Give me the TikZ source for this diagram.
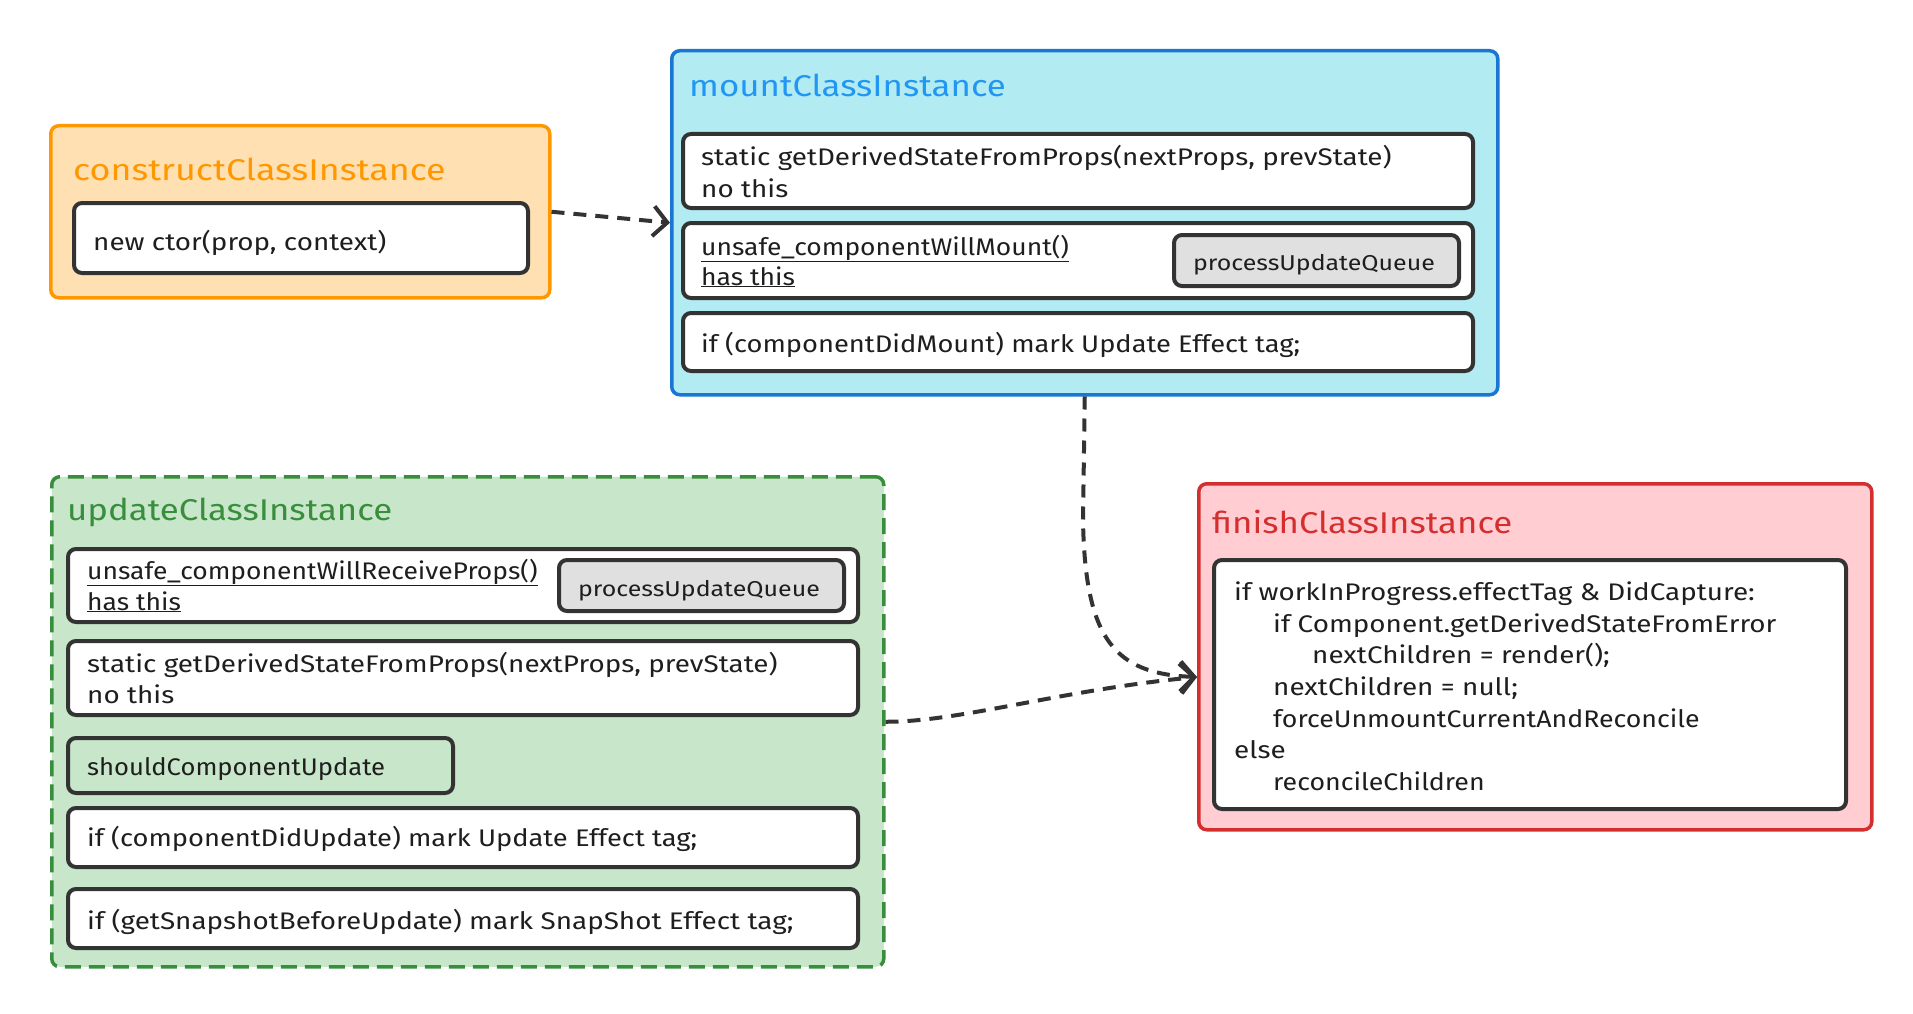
\documentclass[tikz,border=0pt]{standalone}
\usepackage{fontspec}
\usepackage{graphicx}
\setmainfont{Fira Sans}[FakeStretch=1.16]
\usetikzlibrary{arrows.meta}
\newcommand{\hsq}[2]{\scalebox{#1}[1]{#2}}
\definecolor{orS}{HTML}{FF9800}
\definecolor{orF}{HTML}{FFE0B2}
\definecolor{blS}{HTML}{1976D2}
\definecolor{blF}{HTML}{B2EBF2}
\definecolor{blT}{HTML}{2196F3}
\definecolor{grS}{HTML}{388E3C}
\definecolor{grF}{HTML}{C8E6C9}
\definecolor{rdS}{HTML}{D32F2F}
\definecolor{rdF}{HTML}{FFCDD2}
\definecolor{dk}{HTML}{333333}
\definecolor{txc}{HTML}{1E1E1E}
\definecolor{puq}{HTML}{E0E0E0}
\begin{document}
\begin{tikzpicture}[x=1pt,y=-1pt,
  outer/.style={draw, line width=3.5pt, rounded corners=8pt, anchor=north west, inner sep=0pt},
  inbox/.style={draw=dk, fill=white, line width=4pt, rounded corners=8pt, anchor=north west, inner sep=0pt},
  puqbox/.style={inbox, fill=puq},
  ttl/.style={anchor=base west, inner sep=0pt, font=\fontsize{30}{36}\selectfont},
  txt/.style={anchor=base west, inner sep=0pt, text=txc, font=\fontsize{24}{30}\selectfont},
  ctxt/.style={txt, anchor=base, font=\fontsize{21.5}{26}\selectfont},
  conn/.style={draw=dk, line width=4pt, dash pattern=on 13pt off 9pt, -{Straight Barb[length=14pt,width=30pt]}}
]
\useasboundingbox (0,0) rectangle (1913,1014);

% construct
\node[outer, draw=orS, fill=orF, minimum width=499, minimum height=172] (construct) at (49,124) {};
\node[ttl, text=orS] (constructT) at (73,180) {\hsq{1.03}{constructClassInstance}};
\node[inbox, minimum width=454, minimum height=70] (c1) at (72,201) {};
\node[txt] (c1a) at (93,250) {new ctor(prop, context)};

% mount
\node[outer, draw=blS, fill=blF, minimum width=826, minimum height=344] (mount) at (670,49) {};
\node[ttl, text=blT] (mountT) at (689,97) {mountClassInstance};
\node[inbox, minimum width=790, minimum height=74] (m1) at (681,132) {};
\node[txt] (m1a) at (701,165) {static getDerivedStateFromProps(nextProps, prevState)};
\node[txt] (m1b) at (701,197) {no this};
\node[inbox, minimum width=790, minimum height=75] (m2) at (681,221) {};
\node[txt] (m2a) at (701,255) {\hsq{0.95}{\underline{unsafe\_componentWillMount()}}};
\node[txt] (m2b) at (701,285) {\hsq{0.95}{\underline{has this}}};
\node[puqbox, minimum width=285, minimum height=51] (m2q) at (1172,233) {};
\node[ctxt] (m2qt) at (1314,270) {processUpdateQueue};
\node[inbox, minimum width=790, minimum height=58] (m3) at (681,311) {};
\node[txt] (m3a) at (701,352) {\hsq{0.98}{if (componentDidMount) mark Update Effect tag;}};

% update
\node[outer, draw=grS, fill=grF, dash pattern=on 16pt off 8pt, minimum width=832, minimum height=490] (update) at (50,475) {};
\node[ttl, text=grS] (updateT) at (67,520) {updateClassInstance};
\node[inbox, minimum width=790, minimum height=73] (u1) at (66,547) {};
\node[txt] (u1a) at (87,579) {\hsq{0.95}{\underline{unsafe\_componentWillReceiveProps()}}};
\node[txt] (u1b) at (87,610) {\hsq{0.95}{\underline{has this}}};
\node[puqbox, minimum width=285, minimum height=51] (u1q) at (557,558) {};
\node[ctxt] (u1qt) at (699,596) {processUpdateQueue};
\node[inbox, minimum width=790, minimum height=74] (u2) at (66,639) {};
\node[txt] (u2a) at (87,672) {static getDerivedStateFromProps(nextProps, prevState)};
\node[txt] (u2b) at (87,703) {no this};
\node[inbox, fill=grF, minimum width=385, minimum height=55] (u3) at (66,736) {};
\node[txt] (u3a) at (87,775) {\hsq{0.92}{shouldComponentUpdate}};
\node[inbox, minimum width=790, minimum height=59] (u4) at (66,806) {};
\node[txt] (u4a) at (87,846) {\hsq{0.98}{if (componentDidUpdate) mark Update Effect tag;}};
\node[inbox, minimum width=790, minimum height=59] (u5) at (66,887) {};
\node[txt] (u5a) at (87,929) {if (getSnapshotBeforeUpdate) mark SnapShot Effect tag;};

% finish
\node[outer, draw=rdS, fill=rdF, minimum width=673, minimum height=346] (finish) at (1197,482) {};
\node[ttl, text=rdS] (finishT) at (1212,533) {finishClassInstance};
\node[inbox, minimum width=632, minimum height=249] (f1) at (1212,558) {};
\node[txt] (f1a) at (1234,600) {if workInProgress.effectTag \& DidCapture:};
\node[txt] (f1b) at (1273,632) {if Component.getDerivedStateFromError};
\node[txt] (f1c) at (1312,663) {nextChildren = render();};
\node[txt] (f1d) at (1273,695) {nextChildren = null;};
\node[txt] (f1e) at (1273,727) {\hsq{0.96}{forceUnmountCurrentAndReconcile}};
\node[txt] (f1f) at (1234,758) {else};
\node[txt] (f1g) at (1273,790) {\hsq{0.96}{reconcileChildren}};

% connectors
\coordinate (finIn) at (1197,677);
\coordinate (mDown) at (1083,520);
\draw[conn] (construct.east) -- (mount.west);
\draw[conn] (mount.south) -- (mDown) .. controls (1085,640) and (1115,674) .. (finIn);
\draw[conn] (update.east) .. controls (960,722) and (1060,690) .. (finIn);
\end{tikzpicture}
\end{document}
